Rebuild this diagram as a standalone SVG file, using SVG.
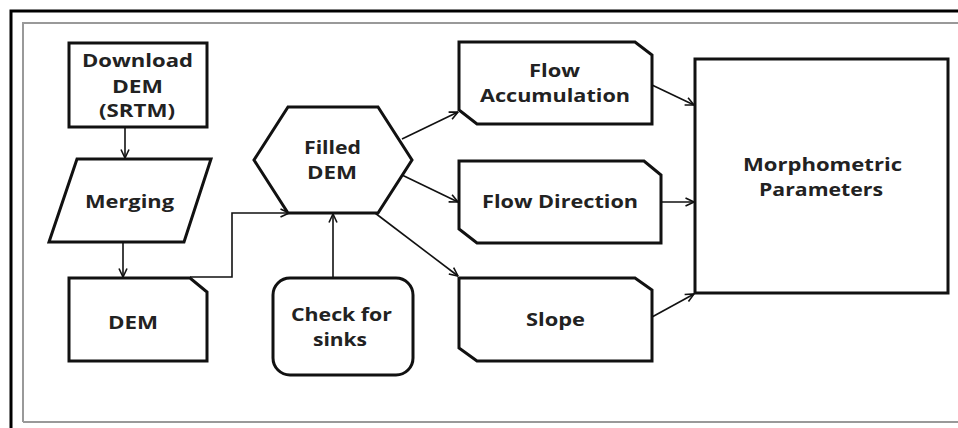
<svg xmlns="http://www.w3.org/2000/svg" width="958" height="428" viewBox="0 0 958 428">
<defs>
<marker id="arr" viewBox="0 0 10 10" refX="9.5" refY="5" markerWidth="10" markerHeight="10" markerUnits="userSpaceOnUse" orient="auto">
<path d="M1,1 L9.5,5 L1,9" fill="none" stroke="#111" stroke-width="1.6"/>
</marker>
</defs>
<style>
.shape{fill:#fff;stroke:#111;stroke-width:3;stroke-linejoin:miter}
.conn{fill:none;stroke:#111;stroke-width:1.6;marker-end:url(#arr)}
text{font-family:"Open Sans","Liberation Sans",sans-serif;font-weight:bold;font-size:18px;fill:#222;text-anchor:start}
</style>
<rect width="958" height="428" fill="#fff"/>
<path d="M11,428 L11,11 L958,11" fill="none" stroke="#000" stroke-width="3"/>
<path d="M23,422 L23,23 L958,23 M23,422 L958,422" fill="none" stroke="#999" stroke-width="2"/>

<g id="connectors">
<line class="conn" x1="125" y1="128" x2="125" y2="158"/>
<line class="conn" x1="123" y1="243" x2="123" y2="277"/>
<polyline class="conn" points="190,277 232,277 232,213 289,213"/>
<line class="conn" x1="333" y1="277" x2="333" y2="214"/>
<line class="conn" x1="402" y1="139" x2="458" y2="112"/>
<line class="conn" x1="402" y1="175" x2="458" y2="202"/>
<line class="conn" x1="375" y1="213" x2="458" y2="276"/>
<line class="conn" x1="652" y1="85" x2="694" y2="105"/>
<line class="conn" x1="661" y1="202" x2="694" y2="202"/>
<line class="conn" x1="652" y1="317" x2="694" y2="294"/>
</g>

<g id="download">
<rect class="shape" x="69" y="43" width="138" height="84"/>
<text x="82" y="67" textLength="111" lengthAdjust="spacingAndGlyphs">Download</text>
<text x="112" y="93" textLength="51" lengthAdjust="spacingAndGlyphs">DEM</text>
<text x="99" y="117" textLength="76" lengthAdjust="spacingAndGlyphs">(SRTM)</text>
</g>

<g id="merging">
<polygon class="shape" points="77,159 211,159 184,242 49,242"/>
<text x="85" y="208" textLength="89" lengthAdjust="spacingAndGlyphs">Merging</text>
</g>

<g id="dem">
<polygon class="shape" points="69,278 190,278 207,292 207,361 69,361"/>
<text x="108" y="329" textLength="50" lengthAdjust="spacingAndGlyphs">DEM</text>
</g>

<g id="filled">
<polygon class="shape" points="288,107 378,107 412,160 378,213 288,213 254,160"/>
<text x="304" y="154" textLength="57" lengthAdjust="spacingAndGlyphs">Filled</text>
<text x="307" y="179" textLength="50" lengthAdjust="spacingAndGlyphs">DEM</text>
</g>

<g id="sinks">
<rect class="shape" x="273" y="278" width="140" height="97" rx="17" ry="17"/>
<text x="291" y="321" textLength="101" lengthAdjust="spacingAndGlyphs">Check for</text>
<text x="313" y="346" textLength="54" lengthAdjust="spacingAndGlyphs">sinks</text>
</g>

<g id="accum">
<polygon class="shape" points="459,42 635,42 652,55 652,124 477,124 459,110"/>
<text x="529" y="77" textLength="51" lengthAdjust="spacingAndGlyphs">Flow</text>
<text x="480" y="102" textLength="150" lengthAdjust="spacingAndGlyphs">Accumulation</text>
</g>

<g id="direction">
<polygon class="shape" points="459,161 644,161 661,175 661,243 477,243 459,229"/>
<text x="482" y="208" textLength="156" lengthAdjust="spacingAndGlyphs">Flow Direction</text>
</g>

<g id="slope">
<polygon class="shape" points="459,278 635,278 652,290 652,361 477,361 459,348"/>
<text x="526" y="326" textLength="59" lengthAdjust="spacingAndGlyphs">Slope</text>
</g>

<g id="morpho">
<rect class="shape" x="695" y="59" width="253" height="234"/>
<text x="743" y="171" textLength="159" lengthAdjust="spacingAndGlyphs">Morphometric</text>
<text x="759" y="196" textLength="124" lengthAdjust="spacingAndGlyphs">Parameters</text>
</g>
</svg>
